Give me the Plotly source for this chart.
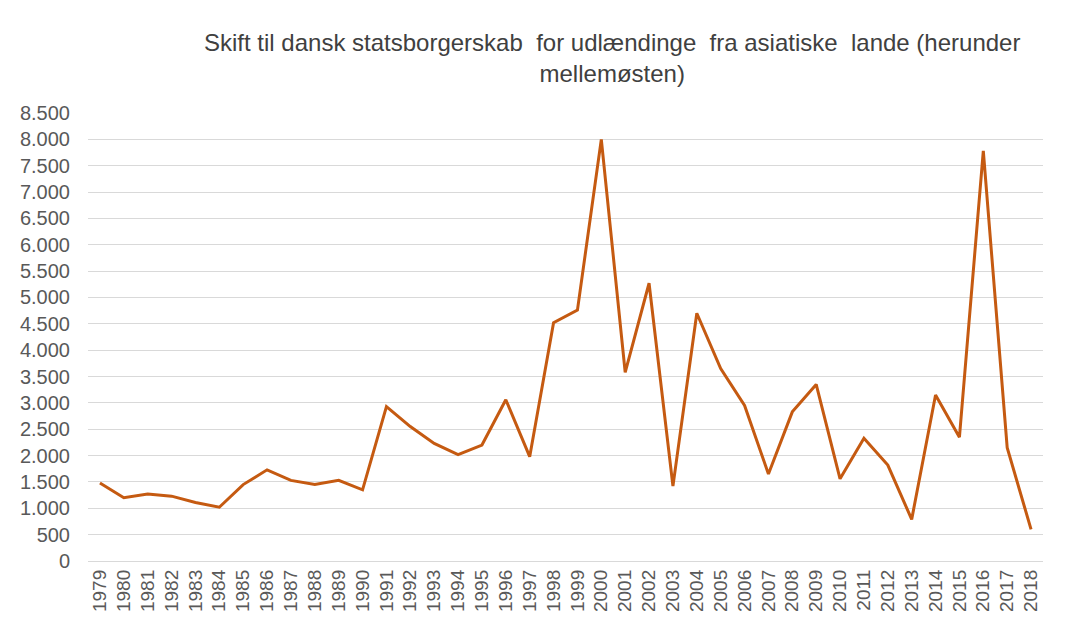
import plotly.graph_objects as go

years = [str(y) for y in range(1979, 2019)]
values = [1480, 1200, 1270, 1230, 1110, 1020, 1450, 1730, 1530, 1450,
          1530, 1350, 2930, 2550, 2230, 2020, 2200, 3060, 1980, 4520,
          4760, 8000, 3580, 5270, 1420, 4700, 3650, 2950, 1650, 2830,
          3350, 1560, 2330, 1820, 790, 3150, 2350, 7780, 2150, 600]
y_ticks = list(range(0, 9000, 500))
y_tick_text = [f"{v:,}".replace(",", ".") for v in y_ticks]

title_text = ("Skift til dansk statsborgerskab  for udlændinge  fra asiatiske  lande (herunder"
              "<br>mellemøsten)")

fig = go.Figure()
fig.add_trace(go.Scatter(
    x=years, y=values, mode="lines",
    line=dict(color="#C55A11", width=3),
    hoverinfo="x+y", showlegend=False,
))

fig.update_layout(
    width=1068, height=639,
    margin=dict(l=88, r=25, t=113, b=78),
    paper_bgcolor="white", plot_bgcolor="white",
    font=dict(family="Liberation Sans, Arial, sans-serif", color="#595959"),
    annotations=[dict(
        text=title_text, xref="paper", yref="paper",
        x=(612 - 88) / (1068 - 88 - 25), y=1.0, yshift=55,
        xanchor="center", yanchor="middle", showarrow=False,
        font=dict(size=24, color="#404040"), align="center",
    )],
)
fig.update_xaxes(
    type="category", tickangle=-90, tickfont=dict(size=19, color="#595959"),
    showgrid=False, showline=False, ticks="", range=[-0.5, len(years) - 0.5],
    ticklabelstandoff=4,
)
fig.update_yaxes(
    range=[0, 8500], tickvals=y_ticks, ticktext=y_tick_text,
    tickfont=dict(size=20, color="#595959"),
    showgrid=True, gridcolor="#D9D9D9", gridwidth=1,
    zeroline=True, zerolinecolor="#D9D9D9", zerolinewidth=1,
    ticks="", ticklabelstandoff=17,
)

fig.write_html("out.html")
